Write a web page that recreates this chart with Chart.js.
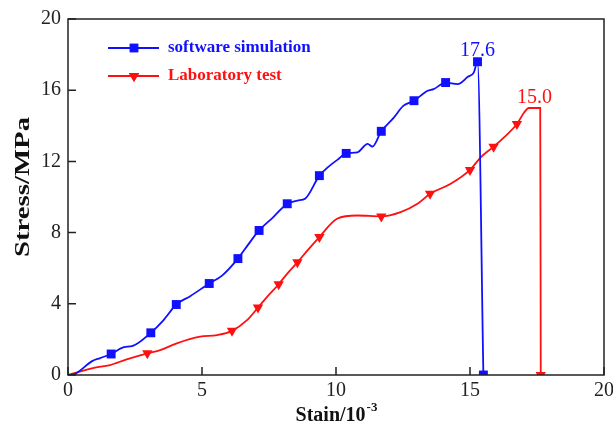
<!DOCTYPE html>
<html>
<head>
<meta charset="utf-8">
<script src="https://cdn.jsdelivr.net/npm/chart.js@4.4.0/dist/chart.umd.min.js"></script>
<style>
  html, body { margin: 0; padding: 0; background: #fff; }
  #wrap { width: 613px; height: 430px; }
</style>
</head>
<body>
<div id="wrap"><canvas id="stressChart"></canvas></div>
<script>
// strain in 10^-3, stress in MPa
const simStrain = [0, 0.26, 0.90, 1.20, 1.61, 2.09, 2.39, 3.09, 3.55, 4.04, 4.56, 5.27, 5.76, 6.34, 6.73, 7.13,
  7.66, 8.18, 8.56, 8.86, 9.38, 9.68, 10.06, 10.38, 10.80, 11.18, 11.36, 11.69, 12.15, 12.52, 12.91,
  13.42, 13.64, 14.09, 14.54, 14.92, 15.14, 15.28, 15.50];
const simStress = [0, 0.06, 0.78, 0.95, 1.18, 1.57, 1.62, 2.37, 3.05, 3.96, 4.43, 5.14, 5.60, 6.54, 7.34, 8.12,
  8.87, 9.62, 9.80, 9.92, 11.20, 11.65, 12.10, 12.45, 12.51, 12.98, 12.83, 13.69, 14.45, 15.13, 15.41,
  15.97, 16.06, 16.43, 16.34, 16.75, 16.99, 17.6, 0];
const simMarkers = [4, 7, 9, 11, 13, 15, 17, 20, 23, 27, 30, 33, 37, 38];

const labStrain = [0, 0.93, 1.57, 2.19, 2.96, 3.44, 4.06, 4.93, 5.56, 6.12, 6.68, 7.09, 7.43, 7.86, 8.19, 8.56,
  8.97, 9.38, 10.04, 10.79, 11.69, 12.41, 13.04, 13.51, 14.28, 15.00, 15.40, 15.88, 16.27, 16.75,
  17.02, 17.20, 17.62, 17.64];
const labStress = [0, 0.39, 0.56, 0.88, 1.22, 1.40, 1.78, 2.15, 2.24, 2.48, 3.08, 3.79, 4.39, 5.10, 5.71, 6.33,
  7.06, 7.75, 8.78, 8.96, 8.91, 9.15, 9.62, 10.18, 10.74, 11.52, 12.23, 12.83, 13.35, 14.10,
  14.75, 15.0, 15.0, 0];
const labMarkers = [4, 9, 11, 13, 15, 17, 20, 23, 25, 27, 29, 33];

const xTicks = [0, 5, 10, 15, 20];
const yTicks = [0, 4, 8, 12, 16, 20];

const SERIF = '"Liberation Serif", "Times New Roman", serif';
const BLUE = '#1010ff';
const RED = '#ff1010';

function toPoints(xs, ys) {
  return xs.map((x, i) => ({ x: x, y: ys[i] }));
}
function markerRadius(n, idx, r) {
  const out = new Array(n).fill(0);
  idx.forEach(i => { out[i] = r; });
  return out;
}

// boxed frame with inward tick marks
const framePlugin = {
  id: 'frame',
  afterDatasetsDraw(chart) {
    const { ctx, chartArea: a, scales } = chart;
    ctx.save();
    ctx.strokeStyle = '#222';
    ctx.lineWidth = 1.5;
    ctx.strokeRect(a.left, a.top, a.right - a.left, a.bottom - a.top);
    ctx.beginPath();
    xTicks.forEach(v => {
      const px = scales.x.getPixelForValue(v);
      ctx.moveTo(px, a.bottom);
      ctx.lineTo(px, a.bottom - 8);
    });
    yTicks.forEach(v => {
      const py = scales.y.getPixelForValue(v);
      ctx.moveTo(a.left, py);
      ctx.lineTo(a.left + 8, py);
    });
    ctx.stroke();
    ctx.restore();
  },
  afterDraw(chart) {
    const { ctx, chartArea: a, scales } = chart;
    ctx.save();

    // axis titles
    ctx.fillStyle = '#111';
    ctx.font = 'bold 20px ' + SERIF;
    ctx.textBaseline = 'alphabetic';
    const base = 'Stain/10';
    const bw = ctx.measureText(base).width;
    ctx.font = 'bold 13px ' + SERIF;
    const sw = ctx.measureText('-3').width;
    const sx = (a.left + a.right) / 2 - (bw + sw) / 2;
    ctx.font = 'bold 20px ' + SERIF;
    ctx.textAlign = 'left';
    ctx.fillText(base, sx, 421);
    ctx.font = 'bold 13px ' + SERIF;
    ctx.fillText('-3', sx + bw + 1, 411);

    ctx.save();
    ctx.font = 'bold 21px ' + SERIF;
    ctx.textAlign = 'center';
    ctx.textBaseline = 'middle';
    const yt = 'Stress/MPa';
    const stretch = 140 / ctx.measureText(yt).width;
    ctx.translate(24, 187);
    ctx.rotate(-Math.PI / 2);
    ctx.scale(stretch, 1);
    ctx.fillText(yt, 0, 0);
    ctx.restore();

    // legend
    const rows = [
      { text: 'software simulation', color: BLUE, style: 'rect', y: 48 },
      { text: 'Laboratory test', color: RED, style: 'triangle', y: 76 }
    ];
    rows.forEach(r => {
      ctx.strokeStyle = r.color;
      ctx.lineWidth = 2;
      ctx.beginPath();
      ctx.moveTo(108, r.y);
      ctx.lineTo(159, r.y);
      ctx.stroke();
      ctx.fillStyle = r.color;
      Chart.helpers.drawPoint(ctx, {
        pointStyle: r.style, radius: 6, rotation: r.style === 'triangle' ? 180 : 0, borderWidth: 0
      }, 134, r.y);
      ctx.fill();
      ctx.font = 'bold 17px ' + SERIF;
      ctx.textAlign = 'left';
      ctx.textBaseline = 'middle';
      ctx.fillText(r.text, 168, r.y);
    });

    // peak stress values
    const peaks = [
      { xs: simStrain, ys: simStress, color: BLUE, gap: 6 },
      { xs: labStrain, ys: labStress, color: RED, gap: 5 }
    ];
    ctx.font = '20px ' + SERIF;
    ctx.textAlign = 'center';
    ctx.textBaseline = 'alphabetic';
    peaks.forEach(p => {
      const top = Math.max(...p.ys);
      const at = p.xs.filter((x, i) => p.ys[i] === top);
      const mx = at.reduce((s, v) => s + v, 0) / at.length;
      ctx.fillStyle = p.color;
      ctx.fillText(top.toFixed(1), scales.x.getPixelForValue(mx), scales.y.getPixelForValue(top) - p.gap);
    });
    ctx.restore();
  }
};

new Chart(document.getElementById('stressChart'), {
  type: 'line',
  data: {
    datasets: [{
      label: 'software simulation',
      data: toPoints(simStrain, simStress),
      borderColor: BLUE,
      backgroundColor: BLUE,
      borderWidth: 1.8,
      cubicInterpolationMode: 'monotone',
      pointStyle: 'rect',
      pointRadius: markerRadius(simStrain.length, simMarkers, 6.3),
      pointBorderWidth: 0
    }, {
      label: 'Laboratory test',
      data: toPoints(labStrain, labStress),
      borderColor: RED,
      backgroundColor: RED,
      borderWidth: 1.8,
      cubicInterpolationMode: 'monotone',
      pointStyle: 'triangle',
      pointRotation: 180,
      pointRadius: markerRadius(labStrain.length, labMarkers, 6),
      pointBorderWidth: 0
    }]
  },
  options: {
    responsive: true,
    maintainAspectRatio: false,
    animation: false,
    layout: { padding: { top: 19, right: 9, left: 0, bottom: 0 } },
    scales: {
      x: {
        type: 'linear',
        min: 0,
        max: 20,
        afterFit(scale) { scale.height = 55; scale.paddingLeft = 0; scale.paddingRight = 0; },
        afterBuildTicks(scale) { scale.ticks = xTicks.map(v => ({ value: v })); },
        grid: { display: false, drawTicks: false },
        border: { display: false },
        ticks: { color: '#222', padding: 4, maxRotation: 0, autoSkip: false, font: { family: SERIF, size: 20 } }
      },
      y: {
        min: 0,
        max: 20,
        afterFit(scale) { scale.width = 68; scale.paddingTop = 0; scale.paddingBottom = 0; },
        afterBuildTicks(scale) { scale.ticks = yTicks.map(v => ({ value: v })); },
        grid: { display: false, drawTicks: false },
        border: { display: false },
        ticks: { color: '#222', padding: 7, autoSkip: false, font: { family: SERIF, size: 20 } }
      }
    },
    plugins: {
      legend: { display: false },
      tooltip: { enabled: false }
    }
  },
  plugins: [framePlugin]
});
</script>
</body>
</html>
